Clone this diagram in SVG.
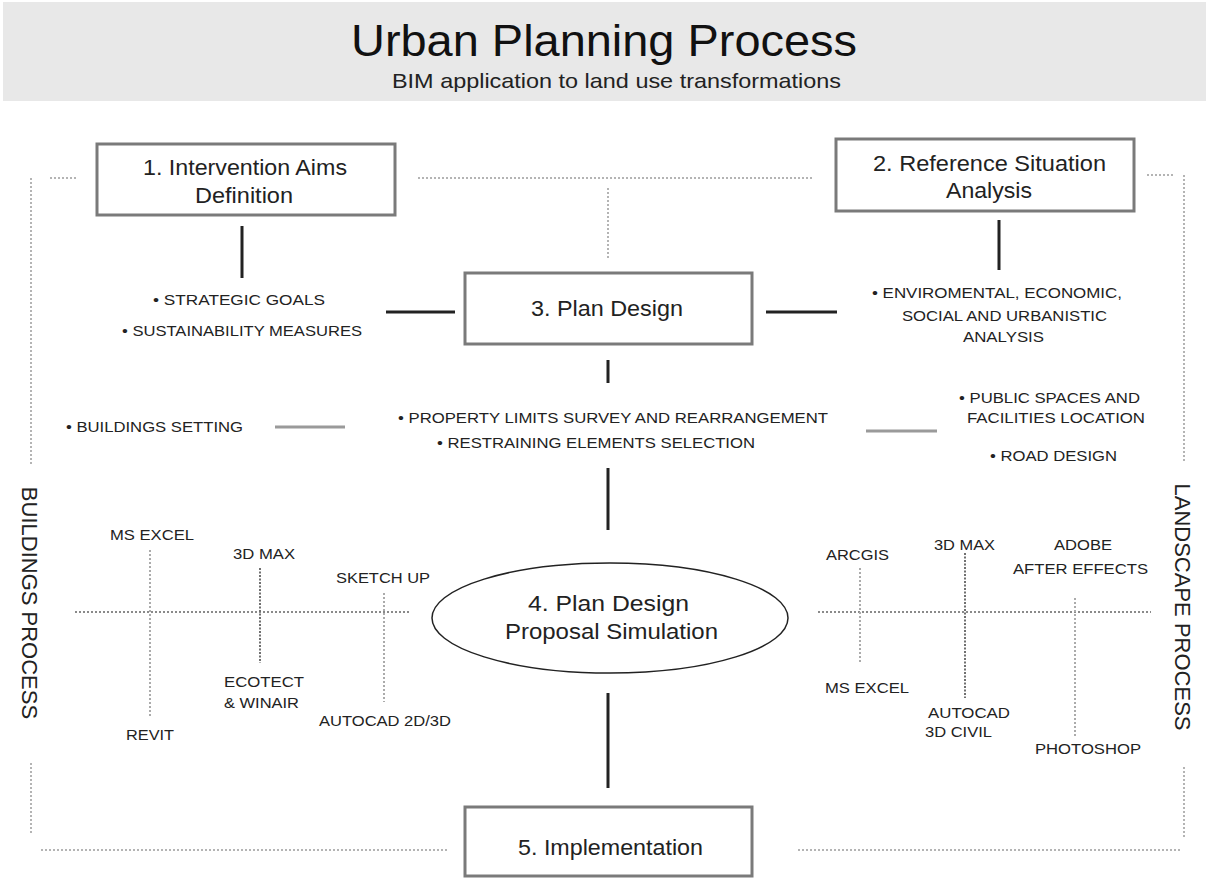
<svg xmlns="http://www.w3.org/2000/svg" width="1209" height="878" viewBox="0 0 1209 878">
<defs>
<style>
text{font-family:"Liberation Sans",Arial,sans-serif;fill:#222}
.title{font-size:45px;fill:#111}
.sub{font-size:21px;fill:#222}
.box{fill:#fff;stroke:#7a7a7a;stroke-width:3}
.bt{font-size:22px}
.sm{font-size:15px}
.tl{font-size:15px}
.side{font-size:22px}
.conn{stroke:#222;stroke-width:3;fill:none}
.gconn{stroke:#9a9a9a;stroke-width:3;fill:none}
.frame{stroke:#b4b4b4;stroke-width:2;stroke-dasharray:2 2;fill:none}
.axis{stroke:#8a8a8a;stroke-width:2;stroke-dasharray:2 2;fill:none}
.tick{stroke:#ababab;stroke-width:2;stroke-dasharray:2 2;fill:none}
.tickd{stroke:#707070;stroke-width:2;stroke-dasharray:2 1.5;fill:none}
</style>
</defs>
<rect width="1209" height="878" fill="#fff"/>
<g id="header">
<rect x="3" y="2" width="1203" height="99" fill="#e8e8e8"/>
<text class="title" x="351" y="56" textLength="506" lengthAdjust="spacingAndGlyphs">Urban Planning Process</text>
<text class="sub" x="392" y="88" textLength="449" lengthAdjust="spacingAndGlyphs">BIM application to land use transformations</text>
</g>
<g id="frame">
<path class="frame" d="M50 178H78M31 178V465M418 178H812M608 188V258M1147 175H1174M1184 175V462M31 763V833M41 850H447M798 850H1181M1184 767V837"/>
</g>
<g id="connectors">
<path class="conn" d="M242 226V278M386 312H455M766 312H837M999 220V270M608 360V383M608 468V530M608 693V788"/>
<path class="gconn" d="M275 427H345M866 431H937"/>
</g>
<g id="node1">
<rect class="box" x="97" y="144" width="298" height="71"/>
<text class="bt" x="143" y="175" textLength="204" lengthAdjust="spacingAndGlyphs">1. Intervention Aims</text>
<text class="bt" x="195" y="203" textLength="98" lengthAdjust="spacingAndGlyphs">Definition</text>
</g>
<g id="node2">
<rect class="box" x="836" y="139" width="298" height="72"/>
<text class="bt" x="873" y="171" textLength="233" lengthAdjust="spacingAndGlyphs">2. Reference Situation</text>
<text class="bt" x="946" y="198" textLength="86" lengthAdjust="spacingAndGlyphs">Analysis</text>
</g>
<g id="node3">
<rect class="box" x="465" y="273" width="287" height="71"/>
<text class="bt" x="531" y="316" textLength="152" lengthAdjust="spacingAndGlyphs">3. Plan Design</text>
</g>
<g id="node4">
<ellipse cx="610" cy="618" rx="178" ry="55" fill="#fff" stroke="#222" stroke-width="1.5"/>
<text class="bt" x="528" y="611" textLength="161" lengthAdjust="spacingAndGlyphs">4. Plan Design</text>
<text class="bt" x="505" y="639" textLength="213" lengthAdjust="spacingAndGlyphs">Proposal Simulation</text>
</g>
<g id="node5">
<rect class="box" x="465" y="807" width="287" height="69"/>
<text class="bt" x="518" y="855" textLength="185" lengthAdjust="spacingAndGlyphs">5. Implementation</text>
</g>
<g id="aims-items">
<text class="sm" x="153" y="305" textLength="172" lengthAdjust="spacingAndGlyphs">•  STRATEGIC GOALS</text>
<text class="sm" x="122" y="336" textLength="240" lengthAdjust="spacingAndGlyphs">• SUSTAINABILITY MEASURES</text>
</g>
<g id="analysis-items">
<text class="sm" x="872" y="298" textLength="250" lengthAdjust="spacingAndGlyphs">•  ENVIROMENTAL, ECONOMIC,</text>
<text class="sm" x="902" y="321" textLength="205" lengthAdjust="spacingAndGlyphs">SOCIAL AND URBANISTIC</text>
<text class="sm" x="963" y="342" textLength="81" lengthAdjust="spacingAndGlyphs">ANALYSIS</text>
</g>
<g id="design-items">
<text class="sm" x="398" y="423" textLength="430" lengthAdjust="spacingAndGlyphs">• PROPERTY LIMITS SURVEY AND REARRANGEMENT</text>
<text class="sm" x="437" y="448" textLength="318" lengthAdjust="spacingAndGlyphs">• RESTRAINING ELEMENTS SELECTION</text>
</g>
<g id="buildings-setting">
<text class="sm" x="66" y="432" textLength="177" lengthAdjust="spacingAndGlyphs">• BUILDINGS SETTING</text>
</g>
<g id="landscape-items">
<text class="sm" x="959" y="403" textLength="181" lengthAdjust="spacingAndGlyphs">• PUBLIC SPACES AND</text>
<text class="sm" x="967" y="423" textLength="178" lengthAdjust="spacingAndGlyphs">FACILITIES LOCATION</text>
<text class="sm" x="990" y="461" textLength="127" lengthAdjust="spacingAndGlyphs">• ROAD DESIGN</text>
</g>
<g id="buildings-process">
<text class="side" transform="translate(22 603) rotate(90)" text-anchor="middle">BUILDINGS PROCESS</text>
<path class="axis" d="M75 612H410"/>
<path class="tick" d="M150 550V718M384 593V702"/>
<path class="tickd" d="M260 568V663"/>
<text class="tl" x="110" y="540" textLength="84" lengthAdjust="spacingAndGlyphs">MS EXCEL</text>
<text class="tl" x="233" y="559" textLength="62" lengthAdjust="spacingAndGlyphs">3D MAX</text>
<text class="tl" x="336" y="583" textLength="94" lengthAdjust="spacingAndGlyphs">SKETCH UP</text>
<text class="tl" x="224" y="687" textLength="80" lengthAdjust="spacingAndGlyphs">ECOTECT</text>
<text class="tl" x="224" y="708" textLength="75" lengthAdjust="spacingAndGlyphs">&amp; WINAIR</text>
<text class="tl" x="126" y="740" textLength="48" lengthAdjust="spacingAndGlyphs">REVIT</text>
<text class="tl" x="319" y="726" textLength="132" lengthAdjust="spacingAndGlyphs">AUTOCAD 2D/3D</text>
</g>
<g id="landscape-process">
<text class="side" transform="translate(1175 607) rotate(90)" text-anchor="middle">LANDSCAPE PROCESS</text>
<path class="axis" d="M818 612H1151"/>
<path class="tick" d="M860 568V663M1075 598V737"/>
<path class="tickd" d="M965 553V698"/>
<text class="tl" x="826" y="560" textLength="63" lengthAdjust="spacingAndGlyphs">ARCGIS</text>
<text class="tl" x="934" y="550" textLength="61" lengthAdjust="spacingAndGlyphs">3D MAX</text>
<text class="tl" x="1054" y="550" textLength="58" lengthAdjust="spacingAndGlyphs">ADOBE</text>
<text class="tl" x="1013" y="574" textLength="135" lengthAdjust="spacingAndGlyphs">AFTER EFFECTS</text>
<text class="tl" x="825" y="693" textLength="84" lengthAdjust="spacingAndGlyphs">MS EXCEL</text>
<text class="tl" x="928" y="718" textLength="82" lengthAdjust="spacingAndGlyphs">AUTOCAD</text>
<text class="tl" x="925" y="737" textLength="67" lengthAdjust="spacingAndGlyphs">3D CIVIL</text>
<text class="tl" x="1035" y="754" textLength="106" lengthAdjust="spacingAndGlyphs">PHOTOSHOP</text>
</g>
</svg>
